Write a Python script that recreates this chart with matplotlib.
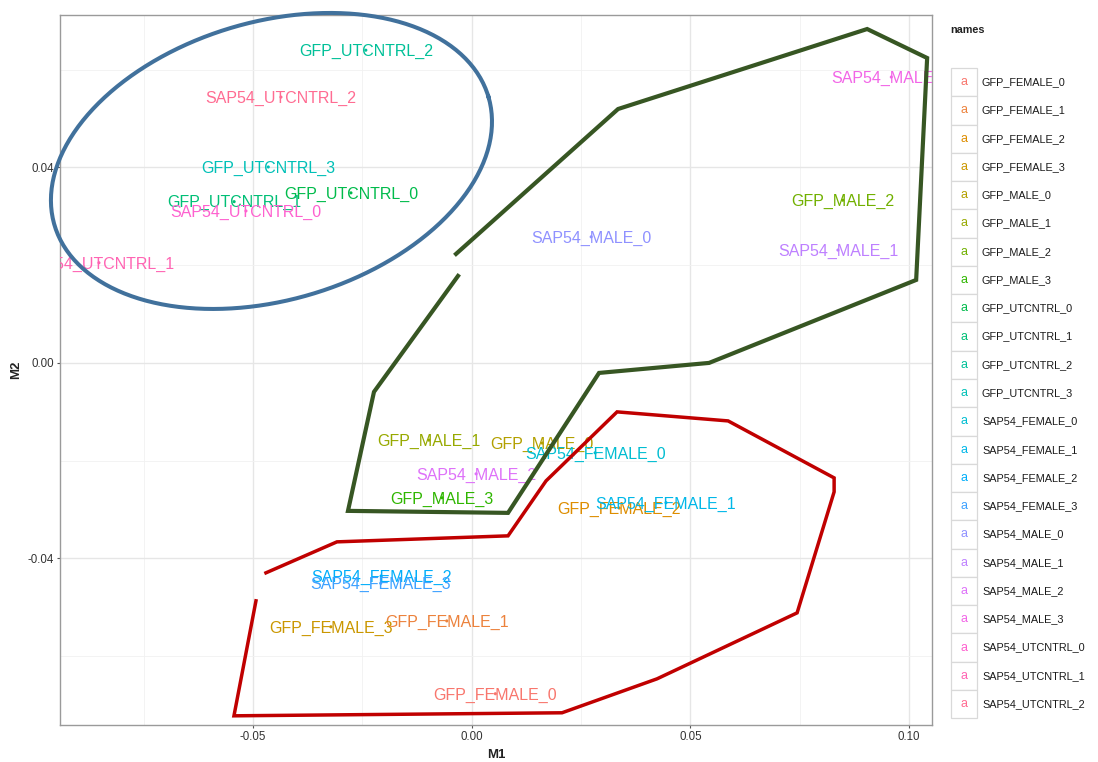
import numpy as np
import matplotlib
matplotlib.use("Agg")
import matplotlib.pyplot as plt
from matplotlib.patches import Rectangle
from matplotlib import transforms

plt.rcParams['font.family'] = ['Liberation Sans', 'DejaVu Sans']

# ==========================================================
# DATA (MDS coordinates per sample)
# ==========================================================

names = [
    "GFP_FEMALE_0", "GFP_FEMALE_1", "GFP_FEMALE_2", "GFP_FEMALE_3",
    "GFP_MALE_0", "GFP_MALE_1", "GFP_MALE_2", "GFP_MALE_3",
    "GFP_UTCNTRL_0", "GFP_UTCNTRL_1", "GFP_UTCNTRL_2", "GFP_UTCNTRL_3",
    "SAP54_FEMALE_0", "SAP54_FEMALE_1", "SAP54_FEMALE_2", "SAP54_FEMALE_3",
    "SAP54_MALE_0", "SAP54_MALE_1", "SAP54_MALE_2", "SAP54_MALE_3",
    "SAP54_UTCNTRL_0", "SAP54_UTCNTRL_1", "SAP54_UTCNTRL_2",
]
m1 = [0.0054, -0.0057, 0.0337, -0.0322,
      0.0161, -0.0098, 0.0848, -0.0068,
      -0.0276, -0.0543, -0.0242, -0.0465,
      0.0282, 0.0444, -0.0207, -0.0208,
      0.0273, 0.0837, 0.0010, 0.0959,
      -0.0516, -0.0852, -0.0436]
m2 = [-0.0677, -0.0528, -0.0297, -0.0540,
      -0.0164, -0.0158, 0.0333, -0.0276,
      0.0348, 0.0330, 0.0640, 0.0401,
      -0.0184, -0.0286, -0.0436, -0.0451,
      0.0258, 0.0231, -0.0227, 0.0585,
      0.0311, 0.0205, 0.0544]

x_ticks = [-0.05, 0.00, 0.05, 0.10]
y_ticks = [-0.04, 0.00, 0.04]

# hand-drawn group outlines (data units)
ellipse_center = (-0.04577, 0.04133)
ellipse_u = (0.04959, 0.01314)
ellipse_v = (0.00903, -0.02729)

green_x = [-0.00313, -0.02234, -0.02828, 0.00830, 0.02910, 0.05425,
           0.10158, 0.10409, 0.09038, 0.03345, -0.00359]
green_y = [0.01780, -0.00593, -0.03028, -0.03069, -0.00205, 0.00000,
           0.01698, 0.06240, 0.06833, 0.05196, 0.02230]

red_x = [-0.04703, -0.03080, 0.00830, 0.01699, 0.03322, 0.05860, 0.08283,
         0.08283, 0.07437, 0.04236, 0.02064, -0.05434, -0.04931]
red_y = [-0.04296, -0.03662, -0.03539, -0.02414, -0.01002, -0.01187, -0.02353,
         -0.02639, -0.05115, -0.06465, -0.07160, -0.07222, -0.04869]


# ==========================================================
# ggplot hue palette (HCL, l=65, c=100)
# ==========================================================

def hcl_hex(h, c=100.0, l=65.0):
    hr = np.deg2rad(h)
    u, v = c * np.cos(hr), c * np.sin(hr)
    Xn, Yn, Zn = 95.047, 100.0, 108.883
    Y = Yn * ((l + 16) / 116) ** 3
    den = Xn + 15 * Yn + 3 * Zn
    up = u / (13 * l) + 4 * Xn / den
    vp = v / (13 * l) + 9 * Yn / den
    X = 9 * Y * up / (4 * vp)
    Z = Y * (12 - 3 * up - 20 * vp) / (4 * vp)
    M = np.array([[3.240479, -1.537150, -0.498535],
                  [-0.969256, 1.875992, 0.041556],
                  [0.055648, -0.204043, 1.057311]])
    lin = M @ (np.array([X, Y, Z]) / 100.0)
    rgb = np.where(lin <= 0.0031308, 12.92 * lin, 1.055 * np.abs(lin) ** (1 / 2.4) - 0.055)
    rgb = np.clip(rgb, 0, 1)
    return "#%02x%02x%02x" % tuple(int(round(ch * 255)) for ch in rgb)


n = len(names)
hues = np.linspace(15, 375, n + 1)[:n]
colors = [hcl_hex(h) for h in hues]

# ==========================================================
# FIGURE
# ==========================================================

W, H = 1098, 762
fig = plt.figure(figsize=(W / 100, H / 100), dpi=100, facecolor='white')
ax = fig.add_axes([60 / W, 1 - 725 / H, (932 - 60) / W, (725 - 15) / H])
ax.set_xlim(-0.0941, 0.1052)
ax.set_ylim(-0.0741, 0.0712)

ax.set_xticks(x_ticks)
ax.set_xticklabels(["-0.05", "0.00", "0.05", "0.10"])
ax.set_yticks(y_ticks)
ax.set_yticklabels(["-0.04", "0.00", "0.04"])
ax.set_xticks([-0.075, -0.025, 0.025, 0.075], minor=True)
ax.set_yticks([-0.06, -0.02, 0.02, 0.06], minor=True)
ax.grid(which='major', color='#e6e6e6', linewidth=1.0)
ax.grid(which='minor', color='#f1f1f1', linewidth=0.6)
ax.set_axisbelow(True)
ax.tick_params(which='major', length=2.5, width=0.8, color='#555555',
               labelsize=8.3, labelcolor='#333333', pad=2)
ax.tick_params(which='minor', length=0)
for s in ax.spines.values():
    s.set_color('#9a9a9a')
    s.set_linewidth(1.0)

ax.set_xlabel("M1", fontsize=9.5, fontweight='bold', color='#222222', labelpad=4)
ax.set_ylabel("M2", fontsize=9.5, fontweight='bold', color='#222222', labelpad=4)

# points + labels (centred on cap height)
ax.scatter(m1, m2, c=colors, s=5, zorder=3, linewidths=0)
lab_tr = transforms.offset_copy(ax.transData, fig=fig, y=-4.1, units='points')
for nm, x, y, col in zip(names, m1, m2, colors):
    ax.text(x, y, nm, color=col, fontsize=11.5, ha='center', va='baseline',
            transform=lab_tr, clip_on=True, zorder=4)

# group outlines
t = np.linspace(0, 2 * np.pi, 300)
ex = ellipse_center[0] + np.cos(t) * ellipse_u[0] + np.sin(t) * ellipse_v[0]
ey = ellipse_center[1] + np.cos(t) * ellipse_u[1] + np.sin(t) * ellipse_v[1]
ax.plot(ex, ey, color='#41719c', linewidth=2.9, clip_on=False, zorder=6)
ax.plot(green_x, green_y, color='#375623', linewidth=3.0, clip_on=False,
        zorder=6, solid_joinstyle='miter')
ax.plot(red_x, red_y, color='#c00000', linewidth=2.5, clip_on=False,
        zorder=6, solid_joinstyle='miter')

# ==========================================================
# LEGEND (drawn by hand, ggplot style)
# ==========================================================

fig.text(950 / W, 1 - 30 / H, "names", fontsize=7.8, fontweight='bold',
         color='#222222', va='center', ha='left')
key_top, key_h, key_x0, key_w = 68, 28.27, 951, 26
for i, (nm, col) in enumerate(zip(names, colors)):
    top = key_top + i * key_h
    fig.add_artist(Rectangle((key_x0 / W, 1 - (top + key_h) / H), key_w / W, key_h / H,
                             transform=fig.transFigure, facecolor='white',
                             edgecolor='#d9d9d9', linewidth=0.9))
    yc = 1 - (top + key_h / 2) / H
    fig.text((key_x0 + key_w / 2) / W, yc, "a", color=col, fontsize=9,
             ha='center', va='center')
    fig.text(982 / W, yc, nm, fontsize=7.8, color='#1a1a1a', ha='left', va='center')

fig.savefig("out.png", dpi=100, facecolor='white')
